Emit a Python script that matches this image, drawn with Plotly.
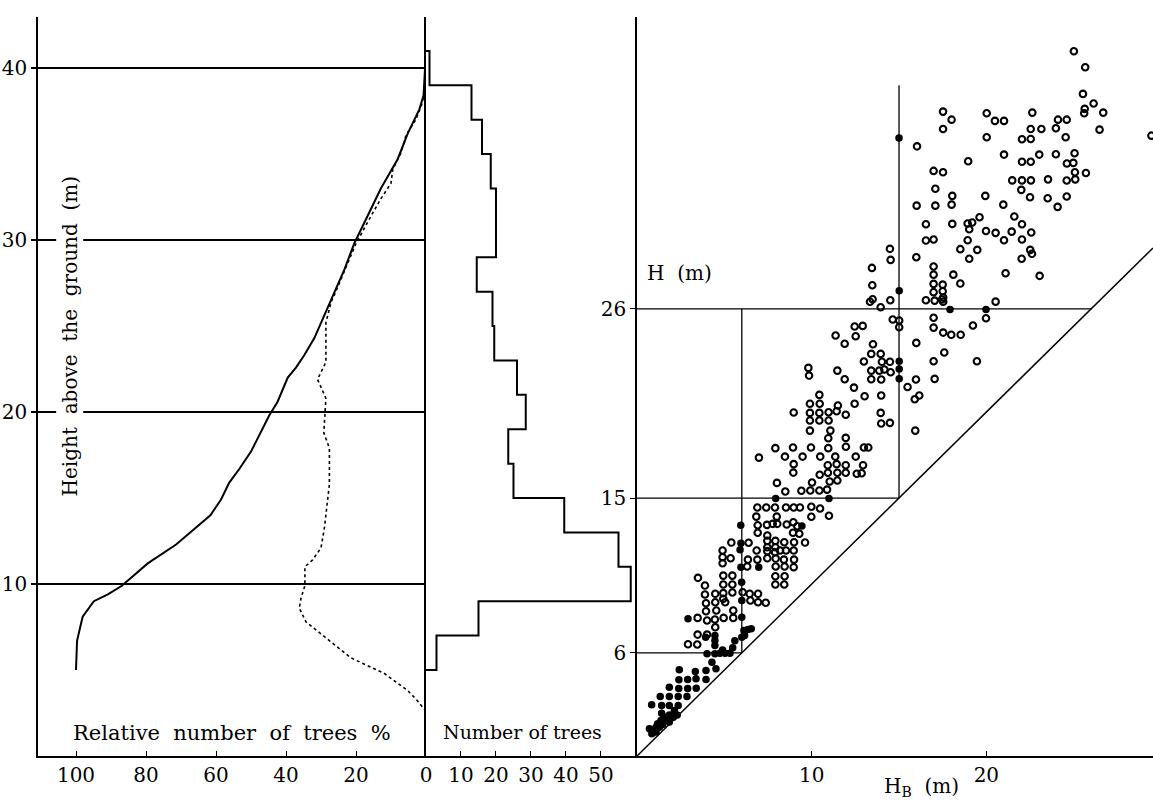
import plotly.graph_objects as go

# ---------------- data ----------------
# Left panel: relative number of trees (%) against height above ground (m)
solid_pct = [100.0, 99.7, 98.1, 94.9, 90.9, 86.9, 79.5, 71.4, 61.6, 58.6, 56.2, 53.3,
             50.0, 48.1, 46.2, 44.8, 42.4, 39.5, 37.1, 34.8, 31.9, 29.5, 26.7, 23.3,
             20.5, 16.7, 12.9, 8.1, 5.2, 1.9, 0.7, 0.3, 0.0]
solid_h = [5.0, 6.7, 8.1, 9.0, 9.4, 9.9, 11.2, 12.3, 14.0, 14.9, 15.9, 16.7,
           17.7, 18.5, 19.2, 19.8, 20.6, 22.0, 22.6, 23.3, 24.3, 25.4, 26.7, 28.3,
           29.8, 31.4, 33.0, 34.7, 36.2, 37.6, 38.4, 39.9, 40.8]
dotted_pct = [0.0, 2.4, 5.2, 11.9, 21.4, 30.0, 34.3, 36.2, 35.7, 34.6, 34.6, 32.4,
              30.0, 29.0, 28.1, 27.6, 27.6, 29.2, 28.9, 28.6, 31.0, 28.6, 28.6, 27.1,
              26.2, 22.4, 20.0, 15.7, 12.9, 10.0, 9.5, 7.1, 5.7, 2.9, 1.0, 0.3, 0.0]
dotted_h = [2.6, 3.2, 3.8, 4.8, 5.7, 7.1, 7.8, 8.6, 9.2, 9.9, 11.0, 11.4,
            12.1, 13.3, 14.8, 15.8, 17.9, 18.8, 19.8, 20.8, 21.9, 22.9, 25.2, 26.4,
            26.8, 28.7, 29.8, 31.4, 32.4, 33.3, 34.1, 35.1, 36.1, 37.0, 38.0, 38.9, 40.0]

# Middle panel: number of trees per 2 m height class
bin_edges = [5, 7, 9, 11, 13, 15, 17, 19, 21, 23, 25, 27, 29, 31, 33, 35, 37, 39, 41]
tree_counts = [3, 15, 58.5, 55, 39.5, 25, 23.5, 28.5, 26, 19.5, 19, 14.5, 20, 20,
               18.5, 16, 13, 1]

# Right panel: H (m) against H_B (m)
open_hb = [25.01, 25.66, 25.53, 26.14, 25.63, 25.60, 26.69, 26.48, 17.52, 18.01, 17.52, 20.02,
           20.49, 21.01, 22.63, 22.54, 23.15, 24.10, 24.60, 23.98, 24.54, 20.02, 22.04, 22.54,
           16.03, 18.96, 21.01, 22.04, 22.54, 23.03, 23.98, 25.05, 24.61, 24.98, 25.07, 25.70,
           25.09, 24.60, 16.98, 17.52, 17.08, 21.48, 22.04, 22.55, 23.53, 22.00, 22.50, 23.51,
           24.60, 24.08, 18.05, 19.94, 16.01, 17.08, 18.01, 20.97, 21.60, 19.61, 16.54, 18.05,
           18.93, 19.19, 19.02, 22.04, 19.98, 20.53, 21.45, 22.57, 16.54, 16.98, 18.93, 21.01,
           22.04, 18.51, 19.48, 19.02, 22.02, 22.51, 22.61, 15.99, 14.48, 14.52, 13.45, 16.98,
           16.98, 18.11, 21.10, 23.05, 29.45,
           13.47, 16.98, 17.50, 18.51, 16.98, 17.50, 13.49, 13.34, 14.50, 13.95, 16.54, 17.04,
           17.46, 17.53, 17.53, 20.53, 19.98, 14.64, 15.01, 15.01, 16.98, 16.98, 17.53, 17.99,
           18.53, 19.23, 12.46, 12.92, 12.52, 11.89, 13.51, 15.99, 13.41, 13.95, 17.59, 12.99,
           14.02, 14.48, 16.98, 19.46, 13.41, 13.87, 14.16, 14.52, 11.89, 13.41, 13.98, 15.97,
           17.04, 12.42, 15.49, 13.03, 13.98, 16.16, 15.90, 11.50, 12.46, 11.95, 13.95, 13.98,
           14.48, 15.93, 11.95, 11.37, 11.47, 9.81, 9.85,
           10.44, 9.90, 10.46, 8.97, 9.90, 10.44, 10.97, 11.43, 9.90, 10.44, 10.97, 9.90,
           11.07, 10.95, 7.92, 8.93, 9.96, 10.95, 11.96, 12.99, 13.24, 6.98, 8.47, 9.48,
           10.49, 11.35, 12.52, 8.97, 10.92, 11.43, 11.95, 12.94, 8.95, 10.46, 10.93, 11.47,
           11.95, 12.58, 12.86, 8.01, 10.02, 11.03, 11.47, 8.49, 9.41, 9.92, 10.44, 10.88,
           6.89, 7.40, 7.90, 8.53, 8.97, 9.33, 9.98, 10.48, 6.83, 8.00, 9.98, 10.99,
           6.91, 7.44, 7.77, 8.03, 8.57, 8.95, 9.18, 6.91, 8.93, 9.29, 7.46, 5.40,
           6.39, 7.46, 7.92, 8.43, 8.99, 9.62, 7.46, 7.92, 4.90, 6.85, 7.46, 7.90,
           8.19, 8.53, 8.97, 4.90, 5.36, 4.90, 6.35, 6.89, 7.46, 7.94, 8.41, 8.99,
           6.31, 7.94, 8.45, 8.97,
           7.92, 8.45, 7.92, 8.43, 6.93, 6.93, 7.37, 3.49, 3.89, 3.89, 3.95, 3.95,
           4.01, 3.47, 3.47, 4.01, 2.92, 3.45, 4.48, 4.48, 4.54, 4.46, 4.48, 4.94,
           4.94, 4.94, 4.94, 4.96, 5.46, 5.46, 5.46, 5.05, 5.51, 5.51, 6.05, 6.45, 6.49]
open_h = [40.98, 40.05, 38.50, 37.94, 37.63, 37.37, 37.41, 36.42, 37.47, 37.00, 36.46, 37.37,
          36.93, 36.93, 37.41, 36.46, 36.46, 37.00, 37.00, 36.50, 35.98, 35.98, 35.86, 35.88,
          35.45, 34.58, 34.97, 34.55, 34.55, 34.97, 34.99, 35.05, 34.45, 34.49, 33.94, 33.90,
          33.53, 33.46, 34.02, 33.94, 32.98, 33.47, 33.47, 33.47, 33.53, 32.92, 32.49, 32.43,
          32.53, 31.93, 32.57, 32.57, 32.00, 32.00, 32.06, 32.06, 31.37, 31.33, 30.92, 30.94,
          30.96, 31.02, 30.63, 30.92, 30.53, 30.42, 30.49, 30.44, 29.97, 30.03, 29.99, 29.99,
          30.03, 29.47, 29.43, 28.91, 28.91, 29.43, 29.20, 29.00, 29.49, 28.85, 28.38, 28.46,
          27.99, 27.99, 28.07, 27.92, 36.07,
          27.37, 27.45, 27.41, 27.47, 26.97, 27.02, 26.56, 26.41, 26.50, 26.09, 26.50, 26.48,
          26.54, 26.41, 26.66, 26.42, 25.45, 25.38, 25.32, 24.93, 25.48, 24.91, 24.62, 24.49,
          24.49, 25.03, 24.97, 25.01, 24.41, 23.97, 23.94, 24.02, 23.38, 23.38, 23.46, 22.94,
          22.92, 22.92, 22.95, 22.95, 22.41, 22.41, 22.47, 22.31, 21.91, 21.91, 21.89, 21.89,
          21.93, 21.42, 21.46, 20.92, 20.96, 20.96, 20.74, 20.38, 20.48, 19.84, 19.95, 19.33,
          19.37, 18.92, 18.50, 24.45, 22.41, 22.57, 22.12,
          21.00, 20.48, 20.48, 19.97, 19.95, 19.95, 19.99, 20.05, 19.51, 19.51, 19.51, 18.92,
          18.92, 18.48, 17.90, 17.94, 17.94, 17.90, 17.98, 17.94, 17.94, 17.35, 17.41, 17.41,
          17.41, 17.41, 17.41, 16.97, 16.91, 16.97, 16.91, 16.91, 16.48, 16.35, 16.47, 16.47,
          16.47, 16.41, 16.44, 15.88, 15.90, 15.96, 16.02, 15.38, 15.42, 15.44, 15.44, 15.49,
          14.45, 14.45, 14.45, 14.45, 14.45, 14.45, 14.49, 14.39, 13.92, 13.92, 13.91, 13.97,
          13.42, 13.44, 13.50, 13.50, 13.46, 13.59, 13.36, 12.98, 12.98, 12.92, 12.82, 12.41,
          12.40, 12.51, 12.51, 12.43, 12.43, 12.41, 12.14, 12.14, 11.95, 11.95, 11.91, 11.85,
          11.95, 11.95, 11.95, 11.56, 11.50, 11.21, 11.42, 11.42, 11.50, 11.48, 11.42, 11.42,
          11.02, 11.02, 11.02, 10.98,
          10.45, 10.45, 9.97, 9.97, 9.43, 8.94, 8.91, 10.36, 9.91, 9.39, 8.88, 8.42,
          7.88, 8.03, 7.06, 7.06, 6.50, 6.48, 9.43, 8.94, 8.46, 7.94, 7.49, 10.49,
          9.97, 9.47, 9.14, 8.03, 10.49, 9.97, 9.51, 8.94, 8.46, 8.03, 9.52, 9.43, 9.04]
filled_hb = [15.00, 15.01, 17.92, 19.98, 15.01, 15.01, 15.01, 7.94, 10.99, 9.44, 5.94, 5.95,
             5.90, 5.95, 6.97, 5.99, 6.00, 6.00, 2.92, 6.00, 5.60, 6.12, 6.35, 6.54,
             6.16, 3.93, 4.46, 4.46, 4.46, 4.90, 5.48, 4.01, 4.46, 4.75, 5.04, 5.32,
             4.29, 4.52, 2.42, 3.34, 3.95, 2.40, 2.90, 3.38, 3.95, 1.85, 2.39, 2.90,
             3.39, 1.33, 1.85, 2.36, 2.86, 0.84, 1.41, 1.85, 2.36, 1.41, 1.85, 2.30,
             2.14, 0.71, 0.90, 1.09, 1.18, 1.37, 1.56, 1.76, 1.28, 1.47, 1.85, 2.08,
             1.09, 0.85]
filled_h = [35.94, 27.05, 25.96, 25.96, 22.96, 22.50, 21.93, 14.97, 14.97, 13.38, 13.42, 12.37,
            11.99, 10.98, 10.98, 10.10, 9.04, 8.07, 7.98, 6.91, 6.70, 7.30, 7.36, 7.40,
            7.00, 6.91, 7.00, 6.72, 6.42, 6.17, 6.29, 5.95, 5.95, 5.97, 5.97, 5.97,
            5.45, 5.07, 5.01, 4.91, 4.97, 4.43, 4.45, 4.49, 4.45, 4.00, 3.92, 3.92,
            3.94, 3.46, 3.46, 3.46, 3.46, 2.98, 2.94, 2.94, 2.94, 2.49, 2.38, 2.38,
            2.65, 1.58, 1.48, 1.67, 1.87, 2.06, 2.26, 2.10, 1.67, 1.83, 1.97, 2.26,
            1.39, 1.30]

# reference levels in the right panel
ref_levels = [6, 15, 26]
vguide_x = [6, 15]
vguide_top = [26, 39]

left_xticks = [100, 80, 60, 40, 20, 0]
mid_xticks = [10, 20, 30, 40, 50]
right_xticks = [10, 20]
left_yticks = [10, 20, 30, 40]

# ---------------- layout constants ----------------
FONT = "DejaVu Serif"
Y_MAX = 42.97
LEFT_RANGE = [110.857, 0]
MID_RANGE = [0, 60.29]
RIGHT_RANGE = [0, 29.54]
D1 = 0.34798
D2 = 0.53722

fig = go.Figure()

# left panel curves
fig.add_trace(go.Scatter(x=solid_pct, y=solid_h, mode="lines", xaxis="x", yaxis="y",
                         line=dict(color="black", width=2), showlegend=False))
fig.add_trace(go.Scatter(x=dotted_pct, y=dotted_h, mode="lines", xaxis="x", yaxis="y",
                         line=dict(color="black", width=1.6, dash="3px,3px"),
                         showlegend=False))

# middle panel: step histogram outline
hx, hy = [0], [bin_edges[0]]
for i, c in enumerate(tree_counts):
    hx += [c, c]
    hy += [bin_edges[i], bin_edges[i + 1]]
hx.append(0)
hy.append(bin_edges[-1])
fig.add_trace(go.Scatter(x=hx, y=hy, mode="lines", xaxis="x2", yaxis="y2",
                         line=dict(color="black", width=2), showlegend=False))

# right panel guide lines
gx, gy = [], []
for lv in ref_levels:
    gx += [0, lv, None]
    gy += [lv, lv, None]
for vx, top in zip(vguide_x, vguide_top):
    gx += [vx, vx, None]
    gy += [vx, top, None]
fig.add_trace(go.Scatter(x=gx, y=gy, mode="lines", xaxis="x3", yaxis="y3",
                         line=dict(color="black", width=1.3), showlegend=False))
# 1:1 line
fig.add_trace(go.Scatter(x=[0, RIGHT_RANGE[1]], y=[0, RIGHT_RANGE[1]], mode="lines",
                         xaxis="x3", yaxis="y3", line=dict(color="black", width=1.5),
                         showlegend=False))
# scatter points
fig.add_trace(go.Scatter(x=open_hb, y=open_h, mode="markers", xaxis="x3", yaxis="y3",
                         marker=dict(symbol="circle-open", size=6.5, color="black",
                                     line=dict(width=2.1, color="black")),
                         showlegend=False))
fig.add_trace(go.Scatter(x=filled_hb, y=filled_h, mode="markers", xaxis="x3", yaxis="y3",
                         marker=dict(symbol="circle", size=7.5, color="black"),
                         showlegend=False))

tickfont = dict(family=FONT, size=20, color="black")
common_x = dict(showline=True, linecolor="black", linewidth=1.6, ticks="inside",
                ticklen=5, tickwidth=1.3, tickcolor="black", showgrid=False,
                zeroline=False, tickfont=tickfont, fixedrange=True, automargin=False)
common_y = dict(range=[0, Y_MAX], domain=[0, 1], showline=True, linecolor="black",
                linewidth=1.6, zeroline=False, fixedrange=True, tickfont=tickfont,
                automargin=False)

fig.update_layout(
    width=1153, height=800, autosize=False,
    margin=dict(l=38, r=0, t=17, b=44, pad=0, autoexpand=False),
    paper_bgcolor="white", plot_bgcolor="white",
    font=dict(family=FONT, color="black"),
    xaxis=dict(domain=[0, D1], range=LEFT_RANGE, anchor="y",
               tickmode="array", tickvals=left_xticks, **common_x),
    xaxis2=dict(domain=[D1, D2], range=MID_RANGE, anchor="y2",
                tickmode="array", tickvals=mid_xticks, **common_x),
    xaxis3=dict(domain=[D2, 1], range=RIGHT_RANGE, anchor="y3",
                tickmode="array", tickvals=right_xticks, **common_x),
    yaxis=dict(anchor="x", tickmode="array", tickvals=left_yticks, ticks="outside",
               ticklen=5, tickwidth=1.5, tickcolor="black",
               showgrid=True, gridcolor="black", gridwidth=1.5, **common_y),
    yaxis2=dict(anchor="x2", showticklabels=False, ticks="", showgrid=False, **common_y),
    yaxis3=dict(anchor="x3", tickmode="array", tickvals=ref_levels, ticks="outside",
                ticklen=5, tickwidth=1.3, tickcolor="black", showgrid=False, **common_y),
)

fig.add_annotation(text="Height  above  the  ground  (m)", xref="x", yref="y",
                   x=101.7, y=24.4, textangle=-90, showarrow=False, bgcolor="white",
                   font=dict(family=FONT, size=20, color="black"))
fig.add_annotation(text="Relative  number  of  trees  %", xref="x", yref="y",
                   x=55.4, y=1.35, showarrow=False,
                   font=dict(family=FONT, size=21, color="black"))
fig.add_annotation(text="Number of trees", xref="x2", yref="y2",
                   x=27.7, y=1.4, showarrow=False,
                   font=dict(family=FONT, size=19, color="black"))
fig.add_annotation(text="H  (m)", xref="x3", yref="y3", x=0.45, y=28.1,
                   xanchor="left", showarrow=False,
                   font=dict(family=FONT, size=20, color="black"))
fig.add_annotation(text="H<sub>B</sub>  (m)", xref="x3", yref="paper", x=16.26, y=-0.042,
                   yanchor="middle", showarrow=False,
                   font=dict(family=FONT, size=20, color="black"))

fig.write_html("out.html", config={"responsive": False, "displayModeBar": False})
